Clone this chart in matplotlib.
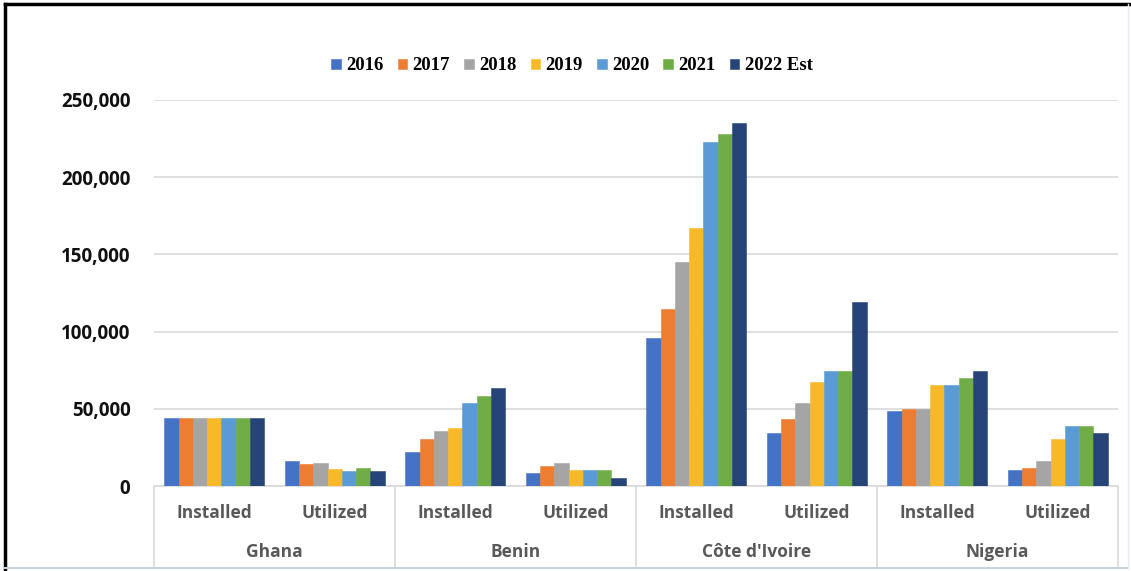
import matplotlib
matplotlib.use("Agg")
import matplotlib.pyplot as plt
from matplotlib.lines import Line2D
from matplotlib.ticker import FuncFormatter
import numpy as np

# Data: capacity per country, installed vs utilized, by year
countries = ["Ghana", "Benin", "Côte d'Ivoire", "Nigeria"]
kinds = ["Installed", "Utilized"]
years = ["2016", "2017", "2018", "2019", "2020", "2021", "2022 Est"]

# one list per year, 8 values: (Ghana I, Ghana U, Benin I, Benin U, CI I, CI U, Nigeria I, Nigeria U)
v2016 = [44000, 16200, 22200, 8600, 95700, 34500, 48800, 10400]
v2017 = [44000, 14000, 30400, 13000, 114400, 43200, 49700, 11900]
v2018 = [44000, 15100, 35600, 14900, 145100, 54000, 50100, 16000]
v2019 = [44000, 10800, 37400, 10200, 166900, 67200, 65400, 30400]
v2020 = [44000, 9900, 54000, 10200, 223000, 74700, 65400, 38700]
v2021 = [44000, 11900, 58300, 10200, 228200, 74700, 69700, 39100]
v2022 = [44000, 9900, 63500, 5400, 235300, 119400, 74700, 34300]
series = [v2016, v2017, v2018, v2019, v2020, v2021, v2022]

colors = ["#4472C4", "#ED7D31", "#A5A5A5", "#F7B928", "#5B9BD5", "#70AD47", "#264478"]

W, H = 1131, 571
fig = plt.figure(figsize=(W / 100, H / 100), dpi=100)
ax = fig.add_axes([154 / W, 1 - 486 / H, (1118 - 154) / W, (486 - 100) / H])

n_cat = len(countries) * len(kinds)
x = np.arange(n_cat)
bar_w = 0.118
for i, (vals, c, yr) in enumerate(zip(series, colors, years)):
    offs = (i - (len(years) - 1) / 2) * bar_w
    ax.bar(x + offs, vals, width=bar_w, color=c, label=yr,
           edgecolor=c, linewidth=0.4, zorder=3)

ax.set_xlim(-0.5, n_cat - 0.5)
ax.set_ylim(0, 250000)
ax.set_yticks(np.arange(0, 250001, 50000))
ax.yaxis.set_major_formatter(FuncFormatter(lambda v, p: f"{int(v):,}"))
ax.grid(axis="y", color="#D9D9D9", linewidth=1.2, zorder=0)
for s in ["top", "right", "left"]:
    ax.spines[s].set_visible(False)
ax.spines["bottom"].set_color("#D9D9D9")
ax.spines["bottom"].set_linewidth(1.2)
ax.tick_params(axis="y", length=0, pad=17, labelsize=13.5)
ax.tick_params(axis="x", length=0, labelbottom=False)
for t in ax.get_yticklabels():
    t.set_fontfamily("Open Sans")
    t.set_fontweight("bold")
    t.set_color("#111111")

# two-level category axis under the plot
trans = ax.get_xaxis_transform()
lab_y = (486 - 513) / (486 - 100)
grp_y = (486 - 552) / (486 - 100)
bot_y = (486 - 566) / (486 - 100)
for i in range(n_cat):
    ax.text(i, lab_y, kinds[i % 2], transform=trans, ha="center", va="center",
            fontsize=12.5, fontweight="bold", color="#595959", family="Open Sans")
for g, name in enumerate(countries):
    ax.text(2 * g + 0.5, grp_y, name, transform=trans, ha="center", va="center",
            fontsize=12.5, fontweight="bold", color="#595959", family="Open Sans")
for g in range(len(countries) + 1):
    ax.add_line(Line2D([2 * g - 0.5, 2 * g - 0.5], [0, bot_y], transform=trans,
                       color="#D9D9D9", linewidth=1.2, clip_on=False))

fig.legend(loc="center", bbox_to_anchor=(572 / W, 1 - 66 / H), ncol=7,
           frameon=False, handlelength=0.5, handleheight=0.5,
           handletextpad=0.3, columnspacing=0.75,
           prop={"family": "Liberation Serif", "weight": "bold", "size": 13.5})

# outer frame
fig.add_artist(Line2D([5 / W, 5 / W], [0, 1 - 4 / H], color="black", linewidth=2.5,
                      transform=fig.transFigure))
fig.add_artist(Line2D([5 / W, 1], [1 - 4 / H, 1 - 4 / H], color="black", linewidth=2.5,
                      transform=fig.transFigure))
fig.add_artist(Line2D([5 / W, 1128 / W], [3 / H, 3 / H], color="#C9D3E0", linewidth=1.5,
                      transform=fig.transFigure))
fig.add_artist(Line2D([1128 / W, 1128 / W], [3 / H, 1 - 4 / H], color="#E6EAF0", linewidth=1,
                      transform=fig.transFigure))

fig.savefig("out.png", dpi=100)
